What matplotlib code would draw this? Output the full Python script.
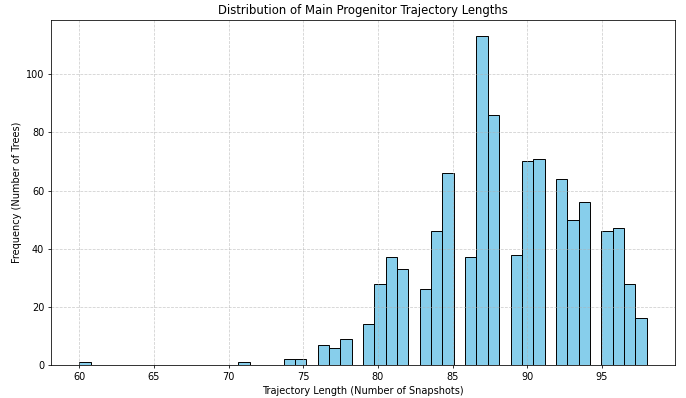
import numpy as np
import matplotlib
matplotlib.use("Agg")
import matplotlib.pyplot as plt

# trajectory lengths (snapshots) and how many trees have each length
lengths = [60, 71, 74, 75, 76, 77, 78, 79, 80, 81, 82, 83, 84, 85, 86, 87, 88,
           89, 90, 91, 92, 93, 94, 95, 96, 97, 98]
counts = [1, 1, 2, 2, 7, 6, 9, 14, 28, 37, 33, 26, 46, 66, 37, 113, 86,
          38, 70, 71, 64, 50, 56, 46, 47, 28, 16]

fig = plt.figure(figsize=(9.8, 5.686), dpi=70)
ax = fig.add_axes([0.0743, 0.0829, 0.9097, 0.8668])

ax.hist(lengths, bins=50, weights=counts, color="skyblue", edgecolor="black")
ax.set_title("Distribution of Main Progenitor Trajectory Lengths")
ax.set_xlabel("Trajectory Length (Number of Snapshots)")
ax.set_ylabel("Frequency (Number of Trees)")
ax.grid(True, linestyle="--", alpha=0.6)

fig.savefig("out.png", dpi=70)
